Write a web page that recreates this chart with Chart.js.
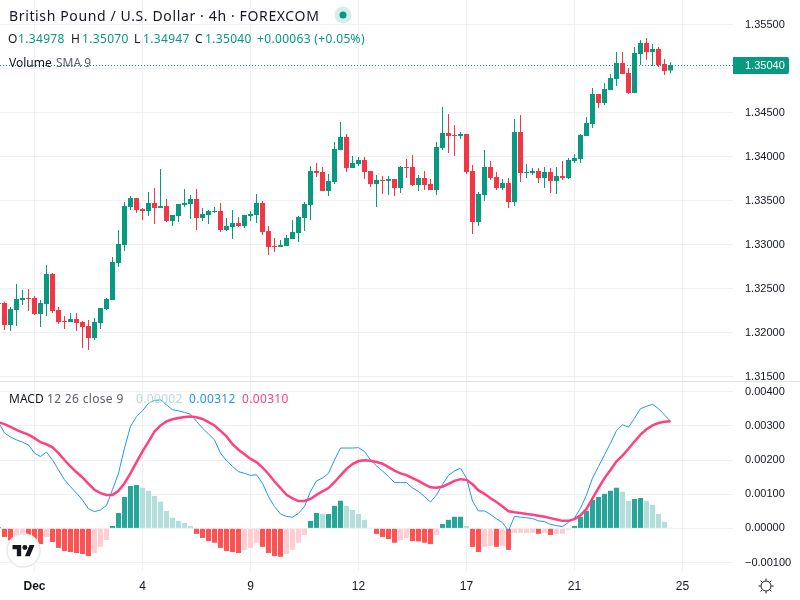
<!DOCTYPE html>
<html>
<head>
<meta charset="utf-8">
<title>GBPUSD 4h</title>
<script src="https://cdn.jsdelivr.net/npm/chart.js@4"></script>
<style>
  html, body { margin: 0; padding: 0; background: #fff; }
  #page { position: relative; width: 800px; height: 600px; overflow: hidden; font-family: "Noto Sans", sans-serif; color: #131722; }
  #priceBox { position: absolute; left: 0; top: 0; width: 800px; height: 381px; }
  #macdBox { position: absolute; left: 0; top: 382px; width: 800px; height: 218px; }
  #sep { position: absolute; left: 0; top: 381px; width: 800px; height: 1px; background: #e0e3eb; }
  .t { position: absolute; white-space: nowrap; line-height: 16px; }
  .small { font-size: 12px; letter-spacing: .33px; }
  .tight { letter-spacing: 0; }
  .up { color: #089981; }
  .muted { color: #5d606b; }
</style>
</head>
<body>
<div id="page">
  <div id="priceBox"><canvas id="priceChart" width="800" height="381"></canvas></div>
  <div id="sep"></div>
  <div id="macdBox"><canvas id="macdChart" width="800" height="218"></canvas></div>

  <span class="t" style="left:9px;top:8px;font-size:14px;letter-spacing:.63px">British Pound / U.S. Dollar · 4h · FOREXCOM</span>
  <svg style="position:absolute;left:334px;top:6px" width="18" height="18"><circle cx="9" cy="9" r="8.5" fill="#d5eee9"/><circle cx="9" cy="9" r="3.5" fill="#089981"/></svg>

  <span class="t small" style="left:8px;top:31px">O</span><span class="t small up" style="left:18px;top:31px">1.34978</span>
  <span class="t small" style="left:71px;top:31px">H</span><span class="t small up" style="left:82px;top:31px">1.35070</span>
  <span class="t small" style="left:134px;top:31px">L</span><span class="t small up" style="left:143px;top:31px">1.34947</span>
  <span class="t small" style="left:195px;top:31px">C</span><span class="t small up" style="left:205px;top:31px">1.35040</span>
  <span class="t small up" style="left:257px;top:31px">+0.00063 (+0.05%)</span>

  <span class="t small tight" style="left:9px;top:55px">Volume</span>
  <span class="t small muted tight" style="left:56px;top:55px">SMA 9</span>

  <span class="t small tight" style="left:9px;top:391px">MACD</span>
  <span class="t small muted" style="left:47px;top:391px">12 26 close 9</span>
  <span class="t small" style="left:136px;top:391px;color:#b2dfdb">0.00002</span>
  <span class="t small" style="left:189px;top:391px;color:#2196f3">0.00312</span>
  <span class="t small" style="left:242px;top:391px;color:#ff4081">0.00310</span>

  <svg style="position:absolute;left:6px;top:533px" width="35" height="35">
    <circle cx="17.5" cy="17.5" r="16.5" fill="#fff" stroke="#e8e9ee" stroke-width="1.5"/>
    <g transform="translate(6.5,9.5) scale(.62)" fill="#131722">
      <path d="M14 22H7V11H0V4h14v18zM28 22h-8l7.5-18h8L28 22z"/><circle cx="20" cy="8" r="4"/>
    </g>
  </svg>

  <svg style="position:absolute;left:758px;top:578px" width="16" height="16" fill="none" stroke="#131722" stroke-width="1">
    <circle cx="8" cy="8" r="5"/>
    <path d="M8 .5v2M8 13.5v2M.5 8h2M13.5 8h2M2.7 2.7l1.4 1.4M11.9 11.9l1.4 1.4M13.3 2.7l-1.4 1.4M4.1 11.9l-1.4 1.4"/>
  </svg>
</div>

<script>
// 4h candles
const opens = [1.32335,1.32335,1.32085,1.32256,1.32369,1.32392,1.32392,1.32210,1.32324,1.32665,
  1.32256,1.32131,1.32119,1.32153,1.32119,1.32074,1.31937,1.32108,1.32267,1.32369,
  1.32790,1.32994,1.33426,1.33528,1.33403,1.33381,1.33472,1.33415,1.33437,1.33267,
  1.33324,1.33449,1.33460,1.33517,1.33301,1.33335,1.33369,1.33381,1.33165,1.33199,
  1.33244,1.33210,1.33324,1.33335,1.33472,1.33153,1.32983,1.32972,1.32983,1.33062,
  1.33131,1.33301,1.33449,1.33835,1.33824,1.33608,1.33710,1.34074,1.34222,1.33869,
  1.33915,1.33960,1.33835,1.33687,1.33733,1.33722,1.33744,1.33642,1.33881,1.33881,
  1.33676,1.33756,1.33687,1.33619,1.34097,1.34267,1.34244,1.34233,1.34256,1.33835,
  1.33256,1.33562,1.33881,1.33767,1.33642,1.33699,1.33483,1.34278,1.33812,1.33812,
  1.33835,1.33756,1.33824,1.33722,1.33778,1.33756,1.33949,1.33972,1.34233,1.34369,
  1.34710,1.34608,1.34756,1.34881,1.35062,1.34949,1.34722,1.35165,1.35290,1.35187,
  1.35222,1.35051,1.34978];
const highs = [1.32340,1.32350,1.32290,1.32551,1.32483,1.32494,1.32415,1.32369,1.32767,1.32676,
  1.32290,1.32187,1.32222,1.32222,1.32131,1.32142,1.32165,1.32278,1.32392,1.32858,
  1.33165,1.33483,1.33551,1.33528,1.33415,1.33597,1.33642,1.33858,1.33517,1.33335,
  1.33460,1.33631,1.33562,1.33631,1.33415,1.33392,1.33426,1.33472,1.33301,1.33392,
  1.33312,1.33335,1.33381,1.33574,1.33494,1.33210,1.33074,1.33051,1.33108,1.33278,
  1.33324,1.33483,1.33892,1.33926,1.33881,1.33801,1.34165,1.34392,1.34256,1.34006,
  1.33994,1.33994,1.33835,1.33790,1.33778,1.33778,1.33744,1.33892,1.33972,1.34017,
  1.33790,1.33835,1.33744,1.34165,1.34562,1.34483,1.34358,1.34278,1.34256,1.33903,
  1.33597,1.34074,1.33949,1.33824,1.33744,1.33756,1.34426,1.34472,1.33915,1.33869,
  1.33869,1.33881,1.33869,1.33881,1.33949,1.33983,1.34028,1.34256,1.34449,1.34778,
  1.34710,1.34835,1.34937,1.35187,1.35187,1.35006,1.35244,1.35324,1.35347,1.35278,
  1.35244,1.35108,1.35070];
const lows = [1.32300,1.32028,1.32017,1.32074,1.32312,1.32244,1.32199,1.32062,1.32187,1.32222,
  1.32096,1.32040,1.32119,1.32017,1.31824,1.31801,1.31915,1.32040,1.32256,1.32369,
  1.32744,1.32926,1.33392,1.33358,1.33278,1.33324,1.33233,1.33415,1.33256,1.33210,
  1.33256,1.33426,1.33290,1.33165,1.33267,1.33233,1.33358,1.33142,1.33153,1.33062,
  1.33199,1.33187,1.33267,1.33244,1.33108,1.32881,1.32915,1.32972,1.32983,1.33062,
  1.33028,1.33153,1.33278,1.33767,1.33608,1.33551,1.33687,1.34074,1.33824,1.33869,
  1.33892,1.33744,1.33653,1.33426,1.33574,1.33562,1.33551,1.33585,1.33756,1.33665,
  1.33608,1.33619,1.33619,1.33562,1.34074,1.34040,1.34006,1.34199,1.33801,1.33119,
  1.33210,1.33494,1.33733,1.33619,1.33619,1.33415,1.33437,1.33710,1.33756,1.33790,
  1.33699,1.33642,1.33585,1.33574,1.33733,1.33744,1.33926,1.33926,1.34233,1.34324,
  1.34551,1.34585,1.34756,1.34801,1.34937,1.34710,1.34722,1.35040,1.35097,1.35028,
  1.35017,1.34926,1.34947];
const closes = [1.32324,1.32085,1.32267,1.32381,1.32392,1.32381,1.32210,1.32335,1.32665,1.32244,
  1.32119,1.32119,1.32153,1.32108,1.32062,1.31937,1.32119,1.32278,1.32381,1.32801,
  1.33006,1.33437,1.33528,1.33392,1.33381,1.33472,1.33415,1.33437,1.33267,1.33335,
  1.33460,1.33472,1.33517,1.33301,1.33347,1.33381,1.33381,1.33165,1.33210,1.33244,
  1.33210,1.33335,1.33347,1.33472,1.33142,1.32972,1.32972,1.32994,1.33074,1.33142,
  1.33312,1.33460,1.33835,1.33812,1.33608,1.33722,1.34085,1.34222,1.33869,1.33926,
  1.33960,1.33824,1.33687,1.33733,1.33722,1.33744,1.33642,1.33881,1.33869,1.33676,
  1.33756,1.33676,1.33619,1.34108,1.34267,1.34233,1.34233,1.34256,1.33824,1.33256,
  1.33574,1.33881,1.33756,1.33642,1.33699,1.33483,1.34278,1.33812,1.33824,1.33835,
  1.33756,1.33824,1.33722,1.33778,1.33756,1.33960,1.33983,1.34244,1.34381,1.34710,
  1.34608,1.34767,1.34892,1.35062,1.34937,1.34722,1.35176,1.35290,1.35187,1.35222,
  1.35040,1.34972,1.35040];

// MACD pane
const histogram = [0.00003,-0.00025,-0.00035,-0.00025,-0.00020,-0.00030,-0.00037,-0.00046,-0.00025,-0.00040,
  -0.00057,-0.00066,-0.00069,-0.00072,-0.00075,-0.00081,-0.00072,-0.00054,-0.00034,0.00007,
  0.00045,0.00092,0.00124,0.00127,0.00119,0.00110,0.00095,0.00078,0.00051,0.00031,
  0.00022,0.00016,0.00007,-0.00016,-0.00028,-0.00037,-0.00042,-0.00057,-0.00066,-0.00069,
  -0.00072,-0.00063,-0.00057,-0.00042,-0.00054,-0.00072,-0.00081,-0.00083,-0.00075,-0.00063,
  -0.00042,-0.00019,0.00022,0.00045,0.00042,0.00042,0.00066,0.00081,0.00066,0.00054,
  0.00042,0.00025,0.00002,-0.00016,-0.00025,-0.00031,-0.00042,-0.00034,-0.00028,-0.00037,
  -0.00038,-0.00042,-0.00046,-0.00019,0.00013,0.00025,0.00034,0.00034,0.00007,-0.00054,
  -0.00069,-0.00054,-0.00051,-0.00054,-0.00051,-0.00063,-0.00013,-0.00013,-0.00013,-0.00013,
  -0.00016,-0.00013,-0.00019,-0.00016,-0.00016,-0.00004,0.00007,0.00034,0.00051,0.00083,
  0.00092,0.00101,0.00110,0.00119,0.00107,0.00080,0.00086,0.00089,0.00080,0.00069,
  0.00042,0.00019,0.00002];
const macdLine = [0.00310,0.00279,0.00267,0.00259,0.00252,0.00244,0.00220,0.00210,0.00223,0.00200,
  0.00171,0.00142,0.00122,0.00103,0.00083,0.00057,0.00049,0.00054,0.00067,0.00113,
  0.00161,0.00235,0.00298,0.00327,0.00344,0.00366,0.00374,0.00376,0.00361,0.00347,
  0.00344,0.00339,0.00334,0.00313,0.00293,0.00276,0.00259,0.00220,0.00198,0.00181,
  0.00166,0.00161,0.00155,0.00157,0.00132,0.00093,0.00064,0.00042,0.00035,0.00033,
  0.00044,0.00064,0.00108,0.00139,0.00147,0.00161,0.00200,0.00235,0.00235,0.00235,
  0.00236,0.00225,0.00200,0.00183,0.00168,0.00152,0.00134,0.00134,0.00134,0.00118,
  0.00108,0.00093,0.00077,0.00098,0.00129,0.00155,0.00168,0.00176,0.00147,0.00080,
  0.00051,0.00051,0.00041,0.00028,0.00017,-0.00007,0.00035,0.00033,0.00031,0.00029,
  0.00022,0.00020,0.00012,0.00008,0.00005,0.00018,0.00030,0.00059,0.00098,0.00147,
  0.00181,0.00215,0.00249,0.00286,0.00303,0.00296,0.00322,0.00350,0.00357,0.00363,
  0.00350,0.00332,0.00313];
const signalLine = [0.00310,0.00305,0.00297,0.00288,0.00281,0.00274,0.00264,0.00252,0.00246,0.00237,
  0.00220,0.00200,0.00181,0.00164,0.00149,0.00130,0.00113,0.00103,0.00098,0.00098,
  0.00110,0.00132,0.00161,0.00194,0.00225,0.00254,0.00283,0.00301,0.00313,0.00319,
  0.00323,0.00326,0.00327,0.00325,0.00320,0.00311,0.00301,0.00285,0.00269,0.00246,
  0.00230,0.00217,0.00203,0.00194,0.00178,0.00159,0.00137,0.00118,0.00098,0.00088,
  0.00080,0.00080,0.00086,0.00098,0.00108,0.00118,0.00135,0.00155,0.00174,0.00188,
  0.00197,0.00199,0.00198,0.00194,0.00189,0.00179,0.00169,0.00161,0.00156,0.00147,
  0.00139,0.00129,0.00120,0.00119,0.00122,0.00130,0.00139,0.00144,0.00142,0.00129,
  0.00111,0.00101,0.00088,0.00077,0.00064,0.00050,0.00047,0.00045,0.00042,0.00040,
  0.00037,0.00034,0.00030,0.00026,0.00022,0.00022,0.00027,0.00038,0.00057,0.00088,
  0.00118,0.00147,0.00171,0.00196,0.00213,0.00233,0.00254,0.00274,0.00290,0.00301,
  0.00308,0.00312,0.00313];

// axis labels
const priceTicks = [1.315, 1.32, 1.325, 1.33, 1.335, 1.34, 1.345, 1.35, 1.355];
const macdTicks = [-0.001, 0, 0.001, 0.002, 0.003, 0.004];
const dateTickBars = [6, 24, 42, 60, 78, 96, 114];
const dateTickLabels = ['Dec', '4', '9', '12', '17', '21', '25'];
const lastPrice = 1.35040;

const UP = '#089981', DOWN = '#f23645';
const GRID = '#eff0f3';
const FONT = '"Liberation Sans", sans-serif';
const X_MIN = 0.25, X_MAX = 122.4167; // first and last bar slots that fit the plot
const AXIS_W = 67;

const isUp = i => closes[i] >= opens[i];
const candleColor = ctx => isUp(ctx.dataIndex) ? UP : DOWN;

// the panes share the edges of the canvas, so no room is kept for half labels
function noPadding(s) {
  s.paddingLeft = s.paddingRight = s.paddingTop = s.paddingBottom = 0;
}

function xAxis(showLabels) {
  return {
    type: 'linear', min: X_MIN, max: X_MAX, offset: false,
    afterBuildTicks: s => { s.ticks = dateTickBars.map(v => ({ value: v })); },
    afterFit: s => { s.height = showLabels ? 29 : 0; noPadding(s); },
    border: { display: false },
    grid: { color: GRID, drawTicks: false, offset: false },
    ticks: {
      display: showLabels, autoSkip: false, maxRotation: 0, padding: 8, color: '#131722',
      font: ctx => ({ family: FONT, size: 12, weight: ctx.index === 0 ? 'bold' : 'normal' }),
      callback: (v, i) => dateTickLabels[i]
    }
  };
}

function yAxis(tickValues, min, max) {
  return {
    position: 'right', min, max,
    afterBuildTicks: s => { s.ticks = tickValues.map(v => ({ value: v })); },
    afterFit: s => { s.width = AXIS_W; noPadding(s); },
    border: { display: false },
    grid: { color: GRID, drawTicks: false },
    ticks: {
      padding: 12, color: '#131722', font: { family: FONT, size: 11 },
      callback: v => v.toFixed(5).replace('-', '\u2212')
    }
  };
}

// dotted last price line and its green box on the axis
const lastPriceTag = {
  id: 'lastPriceTag',
  afterDraw(chart) {
    const y = Math.round(chart.scales.y.getPixelForValue(lastPrice));
    const { left, right } = chart.chartArea, c = chart.ctx;
    c.save();
    c.strokeStyle = UP;
    c.lineWidth = 1;
    c.setLineDash([1, 2]);
    c.beginPath();
    c.moveTo(left, y + 0.5);
    c.lineTo(right, y + 0.5);
    c.stroke();
    c.fillStyle = UP;
    c.beginPath();
    c.roundRect(right, y - 8, 56, 17, [0, 2, 2, 0]);
    c.fill();
    c.fillStyle = '#fff';
    c.font = '11px ' + FONT;
    c.textBaseline = 'middle';
    c.fillText(lastPrice.toFixed(5), right + 12, y + 1);
    c.restore();
  }
};

new Chart(document.getElementById('priceChart'), {
  type: 'bar',
  data: {
    datasets: [
      {
        label: 'wicks',
        data: highs.map((h, i) => ({ x: i, y: [lows[i], h] })),
        backgroundColor: candleColor, barThickness: 1, inflateAmount: 0, grouped: false, order: 2
      },
      {
        label: 'bodies',
        data: opens.map((o, i) => ({ x: i, y: [o, closes[i]] })),
        backgroundColor: candleColor, barThickness: 5, inflateAmount: 0, grouped: false, order: 1
      }
    ]
  },
  options: {
    responsive: false, animation: false, events: [],
    layout: { padding: 0 },
    plugins: { legend: { display: false }, tooltip: { enabled: false } },
    scales: { x: xAxis(false), y: yAxis(priceTicks, 1.314489, 1.357784) }
  },
  plugins: [lastPriceTag]
});

const histColor = ctx => {
  const i = ctx.dataIndex, v = histogram[i], prev = i ? histogram[i - 1] : 0;
  if (v >= 0) return v >= prev ? '#26a69a' : '#b2dfdb';
  return v < prev ? '#ff5252' : '#ffcdd2';
};

new Chart(document.getElementById('macdChart'), {
  type: 'bar',
  data: {
    datasets: [
      {
        label: 'Signal', type: 'line',
        data: signalLine.map((y, x) => ({ x, y })),
        borderColor: '#ff4081', borderWidth: 2.5, pointRadius: 0, order: 1
      },
      {
        label: 'MACD', type: 'line',
        data: macdLine.map((y, x) => ({ x, y })),
        borderColor: '#2196f3', borderWidth: 1, pointRadius: 0, order: 2
      },
      {
        label: 'Histogram',
        data: histogram.map((y, x) => ({ x, y })),
        backgroundColor: histColor, barThickness: 5, inflateAmount: 0, grouped: false, order: 3
      }
    ]
  },
  options: {
    responsive: false, animation: false, events: [],
    layout: { padding: 0 },
    plugins: { legend: { display: false }, tooltip: { enabled: false } },
    scales: { x: xAxis(true), y: yAxis(macdTicks, -0.001246, 0.004281) }
  }
});
</script>
</body>
</html>
